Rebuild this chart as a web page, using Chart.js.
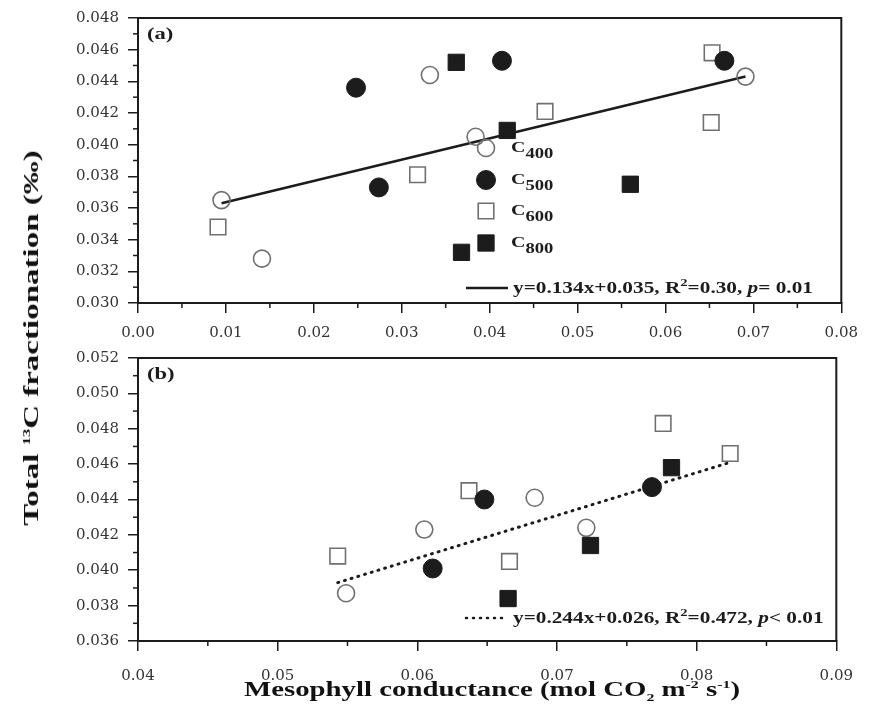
<!DOCTYPE html>
<html>
<head>
<meta charset="utf-8">
<script src="https://cdn.jsdelivr.net/npm/chart.js@4.4.1/dist/chart.umd.min.js"></script>
<style>
  body { margin: 0; background: #fff; }
  #wrap { position: relative; width: 869px; height: 724px; overflow: hidden; font-family: "Liberation Serif", "Times New Roman", serif; color: #111; }
  canvas { position: absolute; left: 0; }
  #ytitle { position: absolute; left: 31px; top: 338px; transform: translate(-50%, -50%) rotate(-90deg) scaleX(1.5); white-space: nowrap; font-weight: bold; font-size: 22px; }
  #xtitle { position: absolute; left: 492px; top: 690px; transform: translate(-50%, -50%) scaleX(1.44); white-space: nowrap; font-weight: bold; font-size: 20px; }
  sup, sub { font-size: 11px; }
</style>
</head>
<body>
<div id="wrap">
  <canvas id="chartA" width="869" height="340" style="top:0"></canvas>
  <canvas id="chartB" width="869" height="384" style="top:340px"></canvas>
  <div id="ytitle">Total <sup>13</sup>C fractionation (‰)</div>
  <div id="xtitle">Mesophyll conductance (mol CO<sub>2</sub> m<sup>-2</sup> s<sup>-1</sup>)</div>
</div>
<script>
// ---- panel (a) data ----
var c400A = [[0.0095, 0.0365], [0.0141, 0.0328], [0.0332, 0.0444], [0.0384, 0.0405], [0.0691, 0.0443]];
var c500A = [[0.0248, 0.0436], [0.0274, 0.0373], [0.0414, 0.0453], [0.0667, 0.0453]];
var c600A = [[0.0091, 0.0348], [0.0318, 0.0381], [0.0463, 0.0421], [0.0653, 0.0458], [0.0652, 0.0414]];
var c800A = [[0.0362, 0.0452], [0.0368, 0.0332], [0.0420, 0.0409], [0.0560, 0.0375]];
var fitA = [[0.0095, 0.0363], [0.0691, 0.0443]];
var xTicksA = [0, 0.01, 0.02, 0.03, 0.04, 0.05, 0.06, 0.07, 0.08];
var yTicksA = [0.030, 0.032, 0.034, 0.036, 0.038, 0.040, 0.042, 0.044, 0.046, 0.048];

// ---- panel (b) data ----
var c400B = [[0.0549, 0.0387], [0.0605, 0.0423], [0.0684, 0.0441], [0.0721, 0.0424]];
var c500B = [[0.0611, 0.0401], [0.0648, 0.0440], [0.0768, 0.0447]];
var c600B = [[0.0543, 0.0408], [0.0637, 0.0445], [0.0666, 0.0405], [0.0776, 0.0483], [0.0824, 0.0466]];
var c800B = [[0.0665, 0.0384], [0.0724, 0.0414], [0.0782, 0.0458]];
var fitB = [[0.0543, 0.0393], [0.0824, 0.0461]];
var xTicksB = [0.04, 0.05, 0.06, 0.07, 0.08, 0.09];
var yTicksB = [0.036, 0.038, 0.040, 0.042, 0.044, 0.046, 0.048, 0.050, 0.052];

var seriesNames = ['400', '500', '600', '800'];

var FONT = '"Liberation Serif", "Times New Roman", serif';
var TICKFONT = '"DejaVu Serif", serif';
var INK = '#1c1c1c';
var OPEN = '#707070';
var SX = 1.33; // horizontal stretch of the scanned lettering

function pts(arr) { return arr.map(function (p) { return { x: p[0], y: p[1] }; }); }

var styles = [
  { pointStyle: 'circle', radius: 8.5, bg: 'rgba(255,255,255,0)', bc: OPEN, bw: 1.6 },
  { pointStyle: 'circle', radius: 9.5, bg: INK, bc: INK, bw: 1 },
  { pointStyle: 'rect', radius: 11, bg: 'rgba(255,255,255,0)', bc: OPEN, bw: 1.6 },
  { pointStyle: 'rect', radius: 11.5, bg: INK, bc: INK, bw: 1 }
];

function scatterSet(name, data, s) {
  return {
    type: 'scatter', label: 'C' + name, data: pts(data),
    pointStyle: s.pointStyle, pointRadius: s.radius, pointHoverRadius: s.radius,
    backgroundColor: s.bg, borderColor: s.bc, borderWidth: s.bw
  };
}

function midpoints(arr) {
  var out = [];
  for (var i = 0; i < arr.length - 1; i++) out.push((arr[i] + arr[i + 1]) / 2);
  return out;
}

// draws text made of parts with different fonts / offsets, stretched by SX
function drawRich(ctx, x, y, parts) {
  ctx.save();
  ctx.translate(x, y);
  ctx.scale(SX, 1);
  ctx.textAlign = 'left';
  ctx.textBaseline = 'alphabetic';
  var cx = 0;
  parts.forEach(function (p) {
    ctx.font = p.font;
    ctx.fillText(p.t, cx, p.dy || 0);
    cx += ctx.measureText(p.t).width;
  });
  ctx.restore();
}

var deco = {
  id: 'deco',
  afterDraw: function (chart, args, opts) {
    var ctx = chart.ctx, a = chart.chartArea;
    ctx.save();
    // box
    ctx.strokeStyle = INK;
    ctx.lineWidth = 2;
    ctx.beginPath();
    ctx.moveTo(a.left, a.top); ctx.lineTo(a.right, a.top); ctx.lineTo(a.right, a.bottom);
    ctx.stroke();
    // minor ticks
    ctx.lineWidth = 1.5;
    var xs = chart.scales.x, ys = chart.scales.y;
    opts.minorX.forEach(function (v) {
      var px = xs.getPixelForValue(v);
      ctx.beginPath(); ctx.moveTo(px, a.bottom); ctx.lineTo(px, a.bottom + 5); ctx.stroke();
    });
    opts.minorY.forEach(function (v) {
      var py = ys.getPixelForValue(v);
      ctx.beginPath(); ctx.moveTo(a.left, py); ctx.lineTo(a.left - 5, py); ctx.stroke();
    });
    // panel label
    ctx.fillStyle = INK;
    drawRich(ctx, a.left + 9, a.top + 21, [{ t: opts.label, font: 'bold 17px ' + FONT }]);
    // equation with line sample
    var ey = opts.eqY;
    ctx.strokeStyle = INK;
    ctx.lineWidth = 2.5;
    if (opts.dotted) { ctx.setLineDash([1, 6]); ctx.lineCap = 'round'; }
    ctx.beginPath(); ctx.moveTo(466, ey - 5); ctx.lineTo(508, ey - 5); ctx.stroke();
    ctx.setLineDash([]);
    var b = 'bold 16px ' + FONT;
    drawRich(ctx, 513, ey, [
      { t: opts.eq[0], font: b },
      { t: '2', font: 'bold 11px ' + FONT, dy: -7 },
      { t: opts.eq[1], font: b },
      { t: 'p', font: 'italic bold 16px ' + FONT },
      { t: opts.eq[2], font: b }
    ]);
    // legend
    if (opts.legend) {
      var rows = [148, 180, 211, 243];
      chart.data.datasets.slice(0, 4).forEach(function (ds, i) {
        var s = styles[i];
        ctx.fillStyle = s.bg; ctx.strokeStyle = s.bc; ctx.lineWidth = s.bw;
        Chart.helpers.drawPoint(ctx, { pointStyle: s.pointStyle, radius: s.radius, borderWidth: s.bw, rotation: 0 }, 486, rows[i]);
        ctx.fillStyle = INK;
        drawRich(ctx, 511, rows[i] + 4, [
          { t: 'C', font: 'bold 15px ' + FONT },
          { t: seriesNames[i], font: 'bold 14px ' + FONT, dy: 6 }
        ]);
      });
    }
    ctx.restore();
  }
};

function axisCfg(ticks, digits, isX, size, pad) {
  return {
    type: 'linear', min: ticks[0], max: ticks[ticks.length - 1],
    afterBuildTicks: function (scale) { scale.ticks = ticks.map(function (v) { return { value: v }; }); },
    afterFit: function (scale) { if (isX) scale.height = size; else scale.width = size; },
    ticks: {
      autoSkip: false, maxRotation: 0, padding: pad,
      color: '#333', font: { family: TICKFONT, size: 15 },
      callback: function (v) { return Number(v).toFixed(digits); }
    },
    grid: { drawOnChartArea: false, drawTicks: true, tickLength: 10, color: INK, lineWidth: 1.5 },
    border: { display: true, color: INK, width: 2 }
  };
}

function makeChart(id, sets, fit, dotted, xt, yt, pad, xHeight, xPad, decoOpts) {
  var datasets = sets.map(function (d, i) { return scatterSet(seriesNames[i], d, styles[i]); });
  datasets.push({
    type: 'line', label: 'fit', data: pts(fit), borderColor: INK, borderWidth: dotted ? 3 : 2.5,
    borderDash: dotted ? [1, 6] : [], borderCapStyle: dotted ? 'round' : 'butt',
    pointRadius: 0, fill: false, order: 10
  });
  return new Chart(document.getElementById(id), {
    type: 'scatter',
    data: { datasets: datasets },
    options: {
      responsive: false, animation: false, devicePixelRatio: 1,
      layout: { padding: pad },
      plugins: { legend: { display: false }, tooltip: { enabled: false }, deco: decoOpts },
      scales: {
        x: axisCfg(xt, 2, true, xHeight, xPad),
        y: axisCfg(yt, 3, false, 138, 9)
      }
    },
    plugins: [deco]
  });
}

makeChart('chartA', [c400A, c500A, c600A, c800A], fitA, false, xTicksA, yTicksA,
  { top: 15, right: 26, left: 0, bottom: 0 }, 37, 11,
  { label: '(a)', eqY: 293, dotted: false, legend: true,
    eq: ['y=0.134x+0.035, R', '=0.30, ', '= 0.01'],
    minorX: midpoints(xTicksA), minorY: midpoints(yTicksA) });

makeChart('chartB', [c400B, c500B, c600B, c800B], fitB, true, xTicksB, yTicksB,
  { top: 16, right: 24, left: 0, bottom: 0 }, 83, 16,
  { label: '(b)', eqY: 283, dotted: true, legend: false,
    eq: ['y=0.244x+0.026, R', '=0.472, ', '< 0.01'],
    minorX: midpoints(xTicksB), minorY: midpoints(yTicksB) });
</script>
</body>
</html>
